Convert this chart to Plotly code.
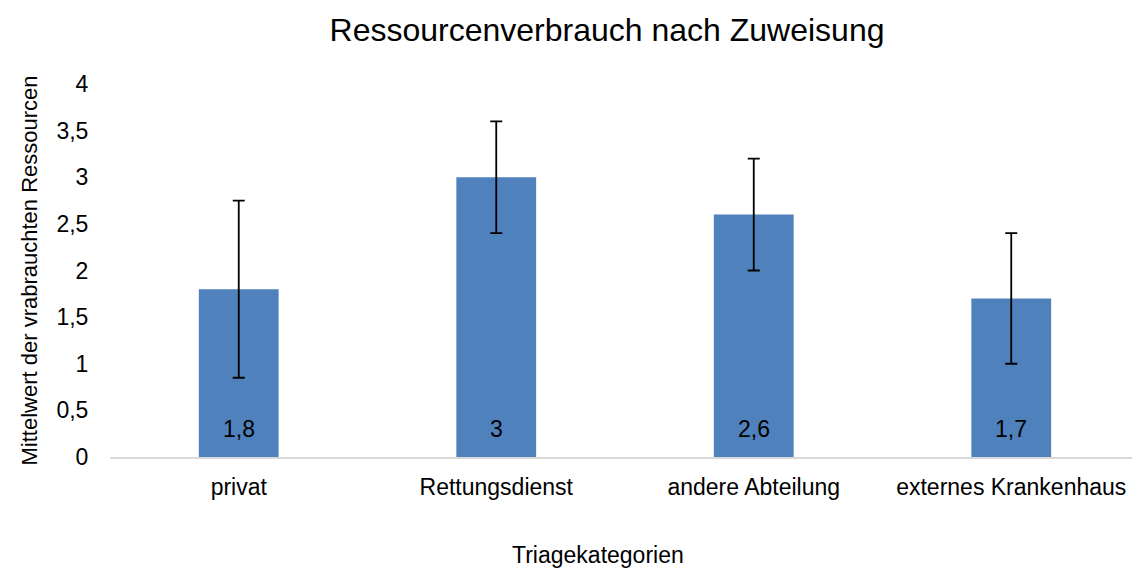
import plotly.graph_objects as go

categories = ["privat", "Rettungsdienst", "andere Abteilung", "externes Krankenhaus"]
means = [1.8, 3.0, 2.6, 1.7]
errors = [0.95, 0.6, 0.6, 0.7]
y_ticks = [0, 0.5, 1, 1.5, 2, 2.5, 3, 3.5, 4]

FONT = "Liberation Sans, Arial, sans-serif"

W, H = 1132, 560
L, T, B, R = 102, 76, 111, 0
PW = W - L - R
PH = H - T - B


def fmt(v):
    s = f"{v:g}"
    return s.replace(".", ",")


fig = go.Figure()
fig.add_trace(go.Bar(
    x=categories,
    y=means,
    width=0.31,
    marker=dict(color="#4f81bd", line=dict(width=0)),
    error_y=dict(type="data", array=errors, visible=True, color="#000000",
                 thickness=1.8, width=6),
    showlegend=False,
))

annotations = [
    dict(text="Mittelwert der vrabrauchten Ressourcen", textangle=-90,
         xref="paper", yref="paper", x=-(110-29)/PW, y=0.5,
         xanchor="center", yanchor="middle", showarrow=False,
         font=dict(family=FONT, size=22, color="#000000")),
    dict(text="Triagekategorien", xref="paper", yref="paper",
         x=(598-110)/PW, y=-(555-457)/PH, xanchor="center", yanchor="middle",
         showarrow=False, font=dict(family=FONT, size=23, color="#000000")),
]
for c, v in zip(categories, means):
    annotations.append(dict(text=fmt(v), x=c, y=0, xref="x", yref="y",
                            yanchor="bottom", yshift=13, showarrow=False,
                            font=dict(family=FONT, size=23, color="#000000")))

fig.update_layout(
    width=W, height=H,
    margin=dict(l=L, r=R, t=T, b=B),
    paper_bgcolor="white", plot_bgcolor="white",
    separators=",.",
    font=dict(family=FONT, size=23, color="#000000"),
    title=dict(text="Ressourcenverbrauch nach Zuweisung", x=599/W, xanchor="center",
               y=1-22/H, yanchor="middle", font=dict(family=FONT, size=32, color="#000000")),
    xaxis=dict(showline=True, linecolor="#d9d9d9", linewidth=2, showgrid=False,
               ticks="outside", ticklen=8, tickcolor="rgba(0,0,0,0)",
               tickfont=dict(family=FONT, size=23, color="#000000")),
    yaxis=dict(range=[0, 4], tickvals=y_ticks, showgrid=False, zeroline=False,
               showline=False, ticks="outside", ticklen=16, tickcolor="rgba(0,0,0,0)",
               tickfont=dict(family=FONT, size=23, color="#000000")),
    annotations=annotations,
)

fig.write_html("out.html")
